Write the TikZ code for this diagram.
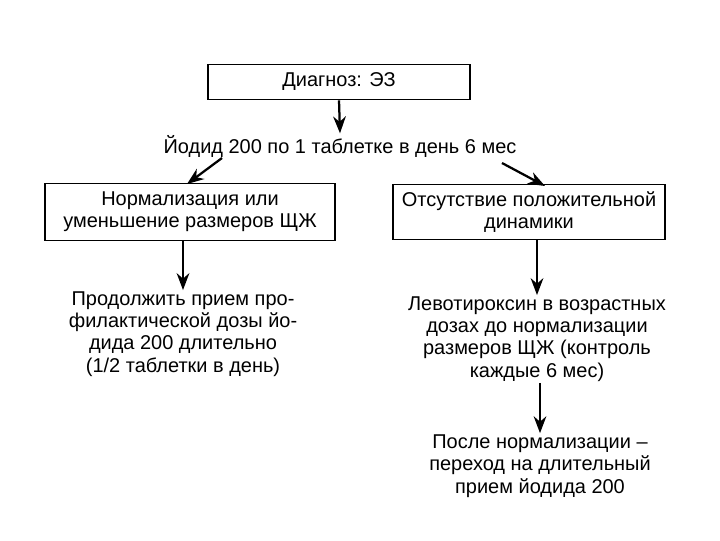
\documentclass[tikz,border=0pt]{standalone}
\usepackage{fontspec}
\setmainfont{Liberation Sans}
\usetikzlibrary{arrows.meta}

\begin{document}
\begin{tikzpicture}[x=0.025cm, y=-0.025cm, font=\fontsize{14.2}{15.8}\selectfont]
    \tikzset{
        box/.style={draw, line width=1.1pt, align=center, inner sep=2pt},
        txt/.style={align=center, inner sep=1pt},
        arr/.style={-{Stealth[length=12pt,width=9pt]}, line width=1.6pt}
    }
    \useasboundingbox (0,0) rectangle (720,540);

    % Diagnosis and first step
    \node[box, minimum width=6.55cm, minimum height=0.875cm] (diag) at (339,82) {Диагноз: ЭЗ};
    \node[txt] (iod) at (340,146) {Йодид 200 по 1 таблетке в день 6 мес};
    \draw[arr] (diag.south) -- (iod.north);

    % Two outcomes
    \node[box, minimum width=7.25cm, minimum height=1.425cm] (norm) at (190,212) {Нормализация или\\уменьшение размеров ЩЖ};
    \node[box, minimum width=6.8cm, minimum height=1.375cm] (nodyn) at (529,212) {Отсутствие положительной\\динамики};
    \coordinate (la) at (222,158);
    \coordinate (lb) at (187,184);
    \coordinate (ra) at (502,163);
    \coordinate (rb) at (545,186);
    \draw[arr] (la) -- (lb);
    \draw[arr] (ra) -- (rb);

    % Left branch
    \node[txt] (cont) at (183,334) {Продолжить прием про-\\филактической дозы йо-\\дида 200 длительно\\(1/2 таблетки в день)};
    \draw[arr] (norm.south -| cont.north) -- (cont.north);

    % Right branch
    \node[txt] (levo) at (537,339) {Левотироксин в возрастных\\дозах до нормализации\\размеров ЩЖ (контроль\\каждые 6 мес)};
    \draw[arr] (nodyn.south -| levo.north) -- (levo.north);
    \node[txt] (after) at (540,466) {После нормализации –\\переход на длительный\\прием йодида 200};
    \draw[arr] (levo.south -| after.north) -- (after.north);

\end{tikzpicture}
\end{document}
